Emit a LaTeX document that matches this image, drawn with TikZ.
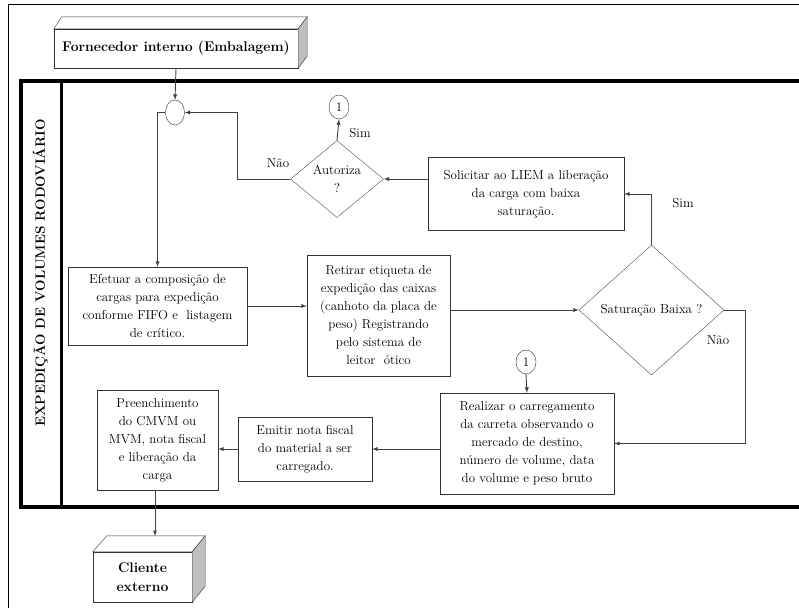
\documentclass[tikz,border=0pt]{standalone}
\usepackage{tikz}
\usetikzlibrary{arrows,shapes.geometric,positioning}
\tikzstyle{proc}=[draw=black!80,fill=white,align=center,inner sep=0pt,font=\fontsize{13}{18}\selectfont]
\tikzstyle{decision}=[diamond,draw=black!70,align=center,inner sep=0pt,font=\fontsize{13}{18}\selectfont]
\tikzstyle{conn}=[ellipse,draw=black!80,fill=white,inner sep=0pt,minimum width=20pt,minimum height=24pt,font=\fontsize{13}{15}\selectfont]
\tikzstyle{ext}=[draw=black!80,fill=white,align=center,inner sep=0pt,font=\bfseries\fontsize{14}{19}\selectfont]
\tikzstyle{lbl}=[inner sep=1pt,font=\fontsize{13}{15}\selectfont]
\tikzstyle{flow}=[->,>=latex,draw=black!75,line width=0.9pt]

\begin{document}
\begin{tikzpicture}[x=1pt,y=-1pt]
        \useasboundingbox (0,0) rectangle (799,608);
        % frames
        \draw[line width=1pt] (8,608) -- (8,4) -- (799,4);
        \draw[line width=4pt] (799,81) -- (20.5,81) -- (20.5,507) -- (799,507);
        \draw[line width=2.5pt] (61.5,81) -- (61.5,507);
        \node at (40,273) [rotate=90,font=\bfseries\fontsize{13.5}{15}\selectfont] (lane) {EXPEDIÇÃO DE VOLUMES RODOVIÁRIO};

        % external entities
        \node at (176,48.5) [ext,minimum width=244pt,minimum height=39pt] (forn) {Fornecedor interno (Embalagem)};
        \draw[black!80,fill=white] (forn.north west) -- ([shift={(8,-12)}]forn.north west) -- ([shift={(9,-12)}]forn.north east) -- (forn.north east) -- cycle;
        \draw[black!80,fill=black!25] (forn.north east) -- ([shift={(9,-12)}]forn.north east) -- ([shift={(9,-12)}]forn.south east) -- (forn.south east) -- cycle;
        \node at (142.5,577) [ext,minimum width=99pt,minimum height=50pt] (cli) {Cliente\\externo};
        \draw[black!80,fill=white] (cli.north west) -- ([shift={(14,-16)}]cli.north west) -- ([shift={(13,-16)}]cli.north east) -- (cli.north east) -- cycle;
        \draw[black!80,fill=black!25] (cli.north east) -- ([shift={(13,-16)}]cli.north east) -- ([shift={(13,-16)}]cli.south east) -- (cli.south east) -- cycle;
        \coordinate (clitop) at (155,536);

        % connectors
        \node at (175,112.5) [conn,minimum width=19pt,minimum height=25pt] (jun) {};
        \node at (339,107) [conn] (onea) {1};
        \node at (526,362) [conn] (oneb) {1};

        % steps
        \node at (157.5,306) [proc,minimum width=179pt,minimum height=78pt] (efe) {Efetuar a composição de\\cargas para expedição\\conforme FIFO e\ \ listagem\\de crítico.};
        \node at (378.5,315.5) [proc,minimum width=143pt,minimum height=121pt] (ret) {Retirar etiqueta de\\expedição das caixas\\(canhoto da placa de\\peso) Registrando\\pelo sistema de\\leitor\ \ ótico};
        \node at (526,194) [proc,minimum width=196pt,minimum height=73pt] (sol) {Solicitar ao LIEM a liberação\\da carga com baixa\\saturação.};
        \node at (527,443.5) [proc,minimum width=174pt,minimum height=101pt] (rea) {Realizar o carregamento\\da carreta observando o\\mercado de destino,\\número de volume, data\\do volume e peso bruto};
        \node at (305,449) [proc,minimum width=134pt,minimum height=64pt] (emi) {Emitir nota fiscal\\do material a ser\\carregado.};
        \node at (157.5,440) [proc,minimum width=121pt,minimum height=100pt] (pre) {Preenchimento\\do CMVM ou\\MVM, nota fiscal\\e liberação da\\carga};

        % decisions
        \node at (337,179) [decision,minimum width=93pt,minimum height=77pt] (aut) {Autoriza\\?};
        \node at (651.5,310) [decision,minimum width=145pt,minimum height=130pt] (sat) {Saturação Baixa ?};

        % flow
        \draw[flow] (forn.south) -- (jun.north);
        \draw[flow] (jun.west) -| (efe.north);
        \draw[flow] (aut.west) -- ++(-53,0) |- (jun.east);
        \draw[flow] (aut.north) -- (onea.south);
        \draw[flow] (sol.west |- aut.east) -- (aut.east);
        \draw[flow] (sat.north) |- (sol.east);
        \draw[flow] (efe.east) -- (efe.east -| ret.west);
        \draw[flow] (sat.west -| ret.east) -- (sat.west);
        \draw[flow] (sat.east) -- ++(21,0) |- (rea.east);
        \draw[flow] (oneb.south) -- (rea.north);
        \draw[flow] (emi.east -| rea.west) -- (emi.east);
        \draw[flow] (emi.west) -- (emi.west -| pre.east);
        \draw[flow] (pre.south -| clitop) -- (clitop);

        % labels
        \node at (278,163) [lbl] (naoa) {Não};
        \node at (360,133) [lbl] (sima) {Sim};
        \node at (683,203) [lbl] (simb) {Sim};
        \node at (718,340) [lbl] (naob) {Não};
      \end{tikzpicture}
\end{document}
